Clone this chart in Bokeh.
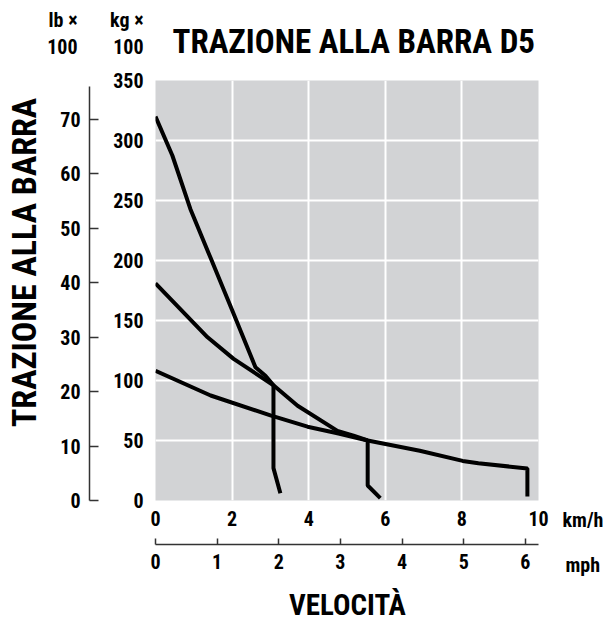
import math
from bokeh.plotting import figure
from bokeh.layouts import column, row
from bokeh.models import Range1d, LinearAxis, FixedTicker, Label, Grid
from bokeh.embed import file_html
from bokeh.resources import INLINE

FONT = "Roboto Condensed"

# ---- data (speed in km/h, drawbar pull in kg x 100) ----
speed_ticks_kmh = [0, 2, 4, 6, 8, 10]
speed_ticks_mph = [0, 1, 2, 3, 4, 5, 6]
pull_ticks_kg = [0, 50, 100, 150, 200, 250, 300, 350]
pull_ticks_lb = [0, 10, 20, 30, 40, 50, 60, 70]

gear1_kmh = [0.0, 0.44, 0.91, 1.44, 2.01, 2.61, 2.87, 3.08, 3.08, 3.26]
gear1_kg = [320, 287.5, 243, 202, 158, 111, 104, 96, 27, 6]

gear2_kmh = [0.0, 1.36, 2.04, 3.08, 3.71, 4.75, 5.17, 5.54, 5.54, 5.87]
gear2_kg = [181, 136, 118, 96, 79, 58, 54, 50, 12.5, 2]

gear3_kmh = [0.0, 1.44, 3.0, 3.97, 4.75, 5.54, 6.9, 8.02, 8.43, 9.71, 9.71]
gear3_kg = [108, 87.5, 71, 61.5, 56, 50, 41.5, 33, 31, 26.7, 3.3]

KMH_PER_MPH = 1.609344
KG100_PER_LB100 = 4.5359237
SPEED_MAX_KMH = 10
PULL_MAX_KG = 350

common = dict(output_backend="svg", toolbar_location=None, frame_align=False,
              x_axis_type=None, y_axis_type=None)

MID = 0.342  # offset of the text anchor from the baseline, as a fraction of font size


def text_fig(w, h):
    f = figure(width=w, height=h, x_range=Range1d(0, 1), y_range=Range1d(0, 1),
               min_border=0, **common)
    f.outline_line_color = None
    f.background_fill_color = "white"
    f.border_fill_color = "white"
    return f


def add_label(f, text, x, baseline, size=20, align="left", angle=0.0):
    if angle:
        x, y = x - MID * size, baseline
    else:
        y = baseline + MID * size
    f.add_layout(Label(text=text, x=x, y=y, x_units="screen", y_units="screen",
                       text_align=align, text_baseline="alphabetic", angle=angle,
                       text_font=FONT, text_font_size=f"{size}px", text_font_style="bold",
                       text_color="black"))


lab = dict(major_label_text_font=FONT, major_label_text_font_size="20px",
           major_label_text_font_style="bold", major_label_text_color="black")

# ---------------- header: unit captions and title ----------------
top = text_fig(610, 64)
add_label(top, "lb ×", 77, 38, align="right")
add_label(top, "100", 77, 11, align="right")
add_label(top, "kg ×", 143, 38, align="right")
add_label(top, "100", 143, 11, align="right")
add_label(top, "TRAZIONE ALLA BARRA D5", 172, 12, size=33)

# ---------------- vertical axis title ----------------
ylab = text_fig(50, 474)
add_label(ylab, "TRAZIONE ALLA BARRA", 35, 276, size=34, align="center", angle=math.pi / 2)

# ---------------- lb axis ----------------
lbf = figure(width=50, height=474, x_range=Range1d(0, 1),
             y_range=Range1d(0, PULL_MAX_KG / KG100_PER_LB100),
             min_border_left=39, min_border_right=0, min_border_top=16, min_border_bottom=38,
             **common)
lbf.outline_line_color = None
lbf.background_fill_color = "white"
lb_axis = LinearAxis(ticker=FixedTicker(ticks=pull_ticks_lb), bounds=(0, 76),
                     axis_line_color="#333333", axis_line_width=1.5,
                     major_tick_line_color="#333333", major_tick_line_width=1.5,
                     major_tick_in=9, major_tick_out=0, minor_tick_line_color=None,
                     major_label_standoff=9, **lab)
lbf.add_layout(lb_axis, "left")

# ---------------- main chart ----------------
p = figure(width=455, height=474, x_range=Range1d(0, SPEED_MAX_KMH), y_range=Range1d(0, PULL_MAX_KG),
           min_border_left=55, min_border_right=17, min_border_top=16, min_border_bottom=38,
           **common)
p.background_fill_color = "#d2d3d5"
p.border_fill_color = "white"
p.outline_line_color = None

kg_axis = LinearAxis(ticker=FixedTicker(ticks=pull_ticks_kg), axis_line_color=None,
                     major_tick_line_color=None, major_tick_in=0, major_tick_out=0,
                     minor_tick_line_color=None, major_label_standoff=12, **lab)
p.add_layout(kg_axis, "left")
kmh_axis = LinearAxis(ticker=FixedTicker(ticks=speed_ticks_kmh), axis_line_color=None,
                      major_tick_line_color=None, major_tick_in=0, major_tick_out=0,
                      minor_tick_line_color=None, major_label_standoff=10, **lab)
p.add_layout(kmh_axis, "below")

p.add_layout(Grid(dimension=0, ticker=FixedTicker(ticks=speed_ticks_kmh),
                  grid_line_color="white", grid_line_width=2))
p.add_layout(Grid(dimension=1, ticker=FixedTicker(ticks=pull_ticks_kg),
                  grid_line_color="white", grid_line_width=2))

for xs, ys in [(gear1_kmh, gear1_kg), (gear2_kmh, gear2_kg), (gear3_kmh, gear3_kg)]:
    p.line(xs, ys, line_color="black", line_width=4)

# ---------------- mph axis ----------------
mf = figure(width=555, height=42, x_range=Range1d(0, SPEED_MAX_KMH / KMH_PER_MPH),
            y_range=Range1d(0, 1),
            min_border_left=155, min_border_right=17, min_border_top=0, min_border_bottom=36,
            **common)
mf.outline_line_color = None
mf.background_fill_color = "white"
mph_axis = LinearAxis(ticker=FixedTicker(ticks=speed_ticks_mph),
                      axis_line_color="#333333", axis_line_width=1.5,
                      major_tick_line_color="#333333", major_tick_line_width=1.5,
                      major_tick_in=6, major_tick_out=0, minor_tick_line_color=None,
                      major_label_standoff=9, **lab)
mf.add_layout(mph_axis, "below")

# ---------------- horizontal axis title ----------------
velo = text_fig(555, 41)
add_label(velo, "VELOCITÀ", 347, 7, size=29, align="center")

# ---------------- unit captions at right ----------------
rightf = text_fig(55, 557)
add_label(rightf, "km/h", 7, 95)
add_label(rightf, "mph", 10, 50)

layout = column(top, row(column(row(ylab, lbf, p), mf, velo), rightf))

open("out.html", "w").write(file_html(layout, INLINE))
